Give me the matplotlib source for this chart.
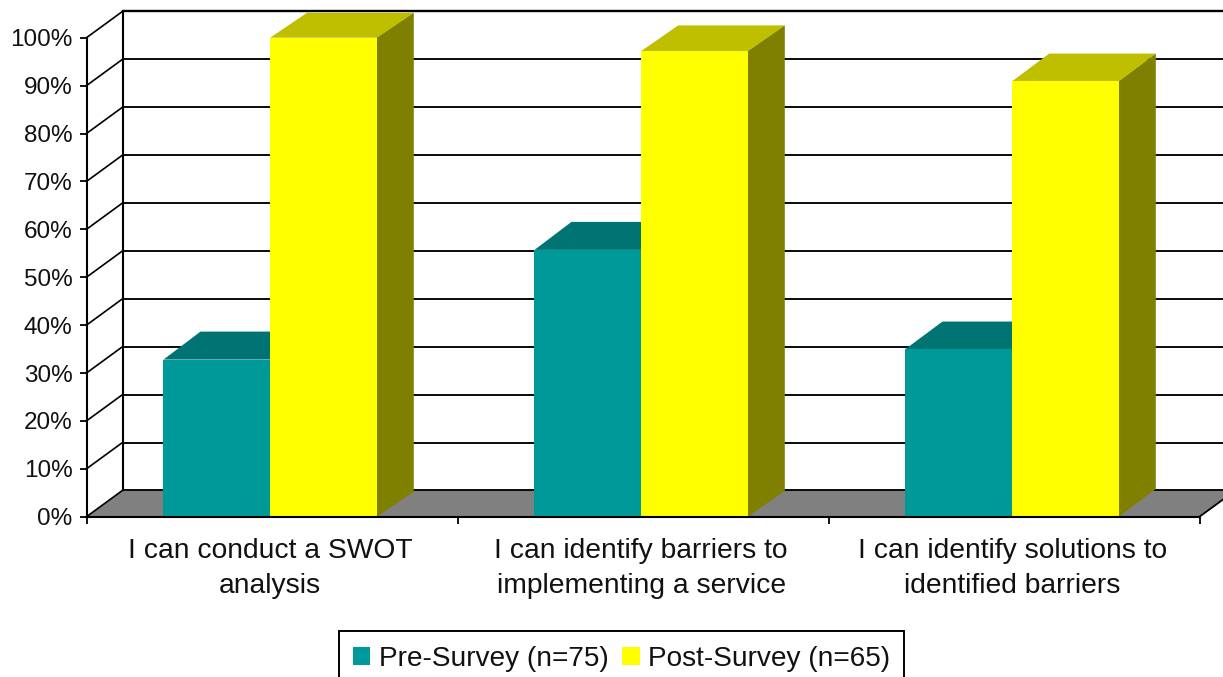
import numpy as np
import matplotlib
matplotlib.use('Agg')
from matplotlib import pyplot as plt
from matplotlib.patches import Polygon, Rectangle, Patch

plt.rcParams['font.family'] = ['Liberation Sans', 'DejaVu Sans']

categories = ['I can conduct a SWOT\nanalysis',
              'I can identify barriers to\nimplementing a service',
              'I can identify solutions to\nidentified barriers']
pre_survey = [32.8, 55.7, 35.0]
post_survey = [100, 97.2, 90.9]
y_ticks = [0, 10, 20, 30, 40, 50, 60, 70, 80, 90, 100]
legend_labels = ['Pre-Survey (n=75)', 'Post-Survey (n=65)']

W, H = 1223, 677
left, right, top, bottom = 86.5, 1199.5, 37.7, 516.7
# depth of the fake 3d box, px converted to data units
px_x = 3 / (right - left)
px_y = 100 / (bottom - top)
dx = 36 * px_x
dy = 26.3 * px_y
# the bars do not all come out the same depth in the picture
pre_depth = [28, 28, 27.5]
post_depth = [25, 25.7, 27.7]
bar_w = 0.2875
centre = 0.495

fig = plt.figure(figsize=(W / 100, H / 100), dpi=100, facecolor='white')
ax = fig.add_axes([left / W, 1 - bottom / H, (right - left) / W, (bottom - top) / H])
ax.set_xlim(0, 3)
ax.set_ylim(0, 100)
ax.patch.set_visible(False)


def poly(points, color, z):
    ax.add_patch(Polygon(points, closed=True, facecolor=color, edgecolor='none',
                         linewidth=0, zorder=z, clip_on=False))


# floor
poly([(0, 0), (3, 0), (3 + dx, dy), (dx, dy)], '#808080', 1)
ax.plot([3, 3 + dx], [0, dy], color='black', lw=1.3, zorder=1.5, clip_on=False)

# back wall and side wall lines
for t in y_ticks:
    lw = 1.7 if t == 100 else 1.35
    ax.plot([dx, 3 + dx], [t + dy, t + dy], color='black', lw=lw, zorder=2, clip_on=False)
    ax.plot([0, dx], [t, t + dy], color='black', lw=1.2, zorder=2, clip_on=False)
ax.plot([dx, dx], [dy, 100 + dy], color='black', lw=1.5, zorder=2, clip_on=False)


def bar3d(x0, v, depth, front, top_c, side):
    ddx = 37 * px_x
    ddy = depth * px_y
    poly([(x0, v), (x0 + bar_w, v), (x0 + bar_w + ddx, v + ddy), (x0 + ddx, v + ddy)], top_c, 3)
    poly([(x0 + bar_w, 0), (x0 + bar_w + ddx, ddy), (x0 + bar_w + ddx, v + ddy), (x0 + bar_w, v)], side, 3)
    ax.add_patch(Rectangle((x0, 0), bar_w, v, facecolor=front, edgecolor='none', zorder=4))


for i in range(3):
    bar3d(i + centre - bar_w, pre_survey[i], pre_depth[i], '#009999', '#007373', '#007373')
for i in range(3):
    bar3d(i + centre, post_survey[i], post_depth[i], '#FFFF00', '#BFBF00', '#808000')

for s in ['top', 'right']:
    ax.spines[s].set_visible(False)
for s in ['left', 'bottom']:
    ax.spines[s].set_linewidth(1.5)
    ax.spines[s].set_zorder(5)

ax.set_yticks(y_ticks)
ax.set_yticklabels([f'{t}%' for t in y_ticks], fontsize=17.5, color='#111111')
ax.tick_params(axis='y', length=5, width=1.3, pad=5)

ax.set_xticks([0, 1, 2, 3])
ax.set_xticklabels([])
ax.tick_params(axis='x', length=5, width=1.3)
for i, c in enumerate(categories):
    ax.annotate(c, xy=(i + 0.495, 0), xytext=(0, -21), textcoords='offset pixels',
                ha='center', va='top', fontsize=20.3, linespacing=1.47, color='#111111',
                annotation_clip=False)

handles = [Patch(facecolor='#009999', edgecolor='none'), Patch(facecolor='#FFFF00', edgecolor='none')]
leg = fig.legend(handles, legend_labels, ncol=2, loc='center', bbox_to_anchor=(621.5 / W, 1 - 658.5 / H),
                 fontsize=20.2, frameon=True, fancybox=False, framealpha=1, edgecolor='black',
                 handlelength=0.62, handleheight=0.62, handletextpad=0.3, columnspacing=0.5,
                 borderpad=0.5, borderaxespad=0, labelcolor='#111111')
leg.get_frame().set_linewidth(1.4)

fig.savefig('out.png', dpi=100)
